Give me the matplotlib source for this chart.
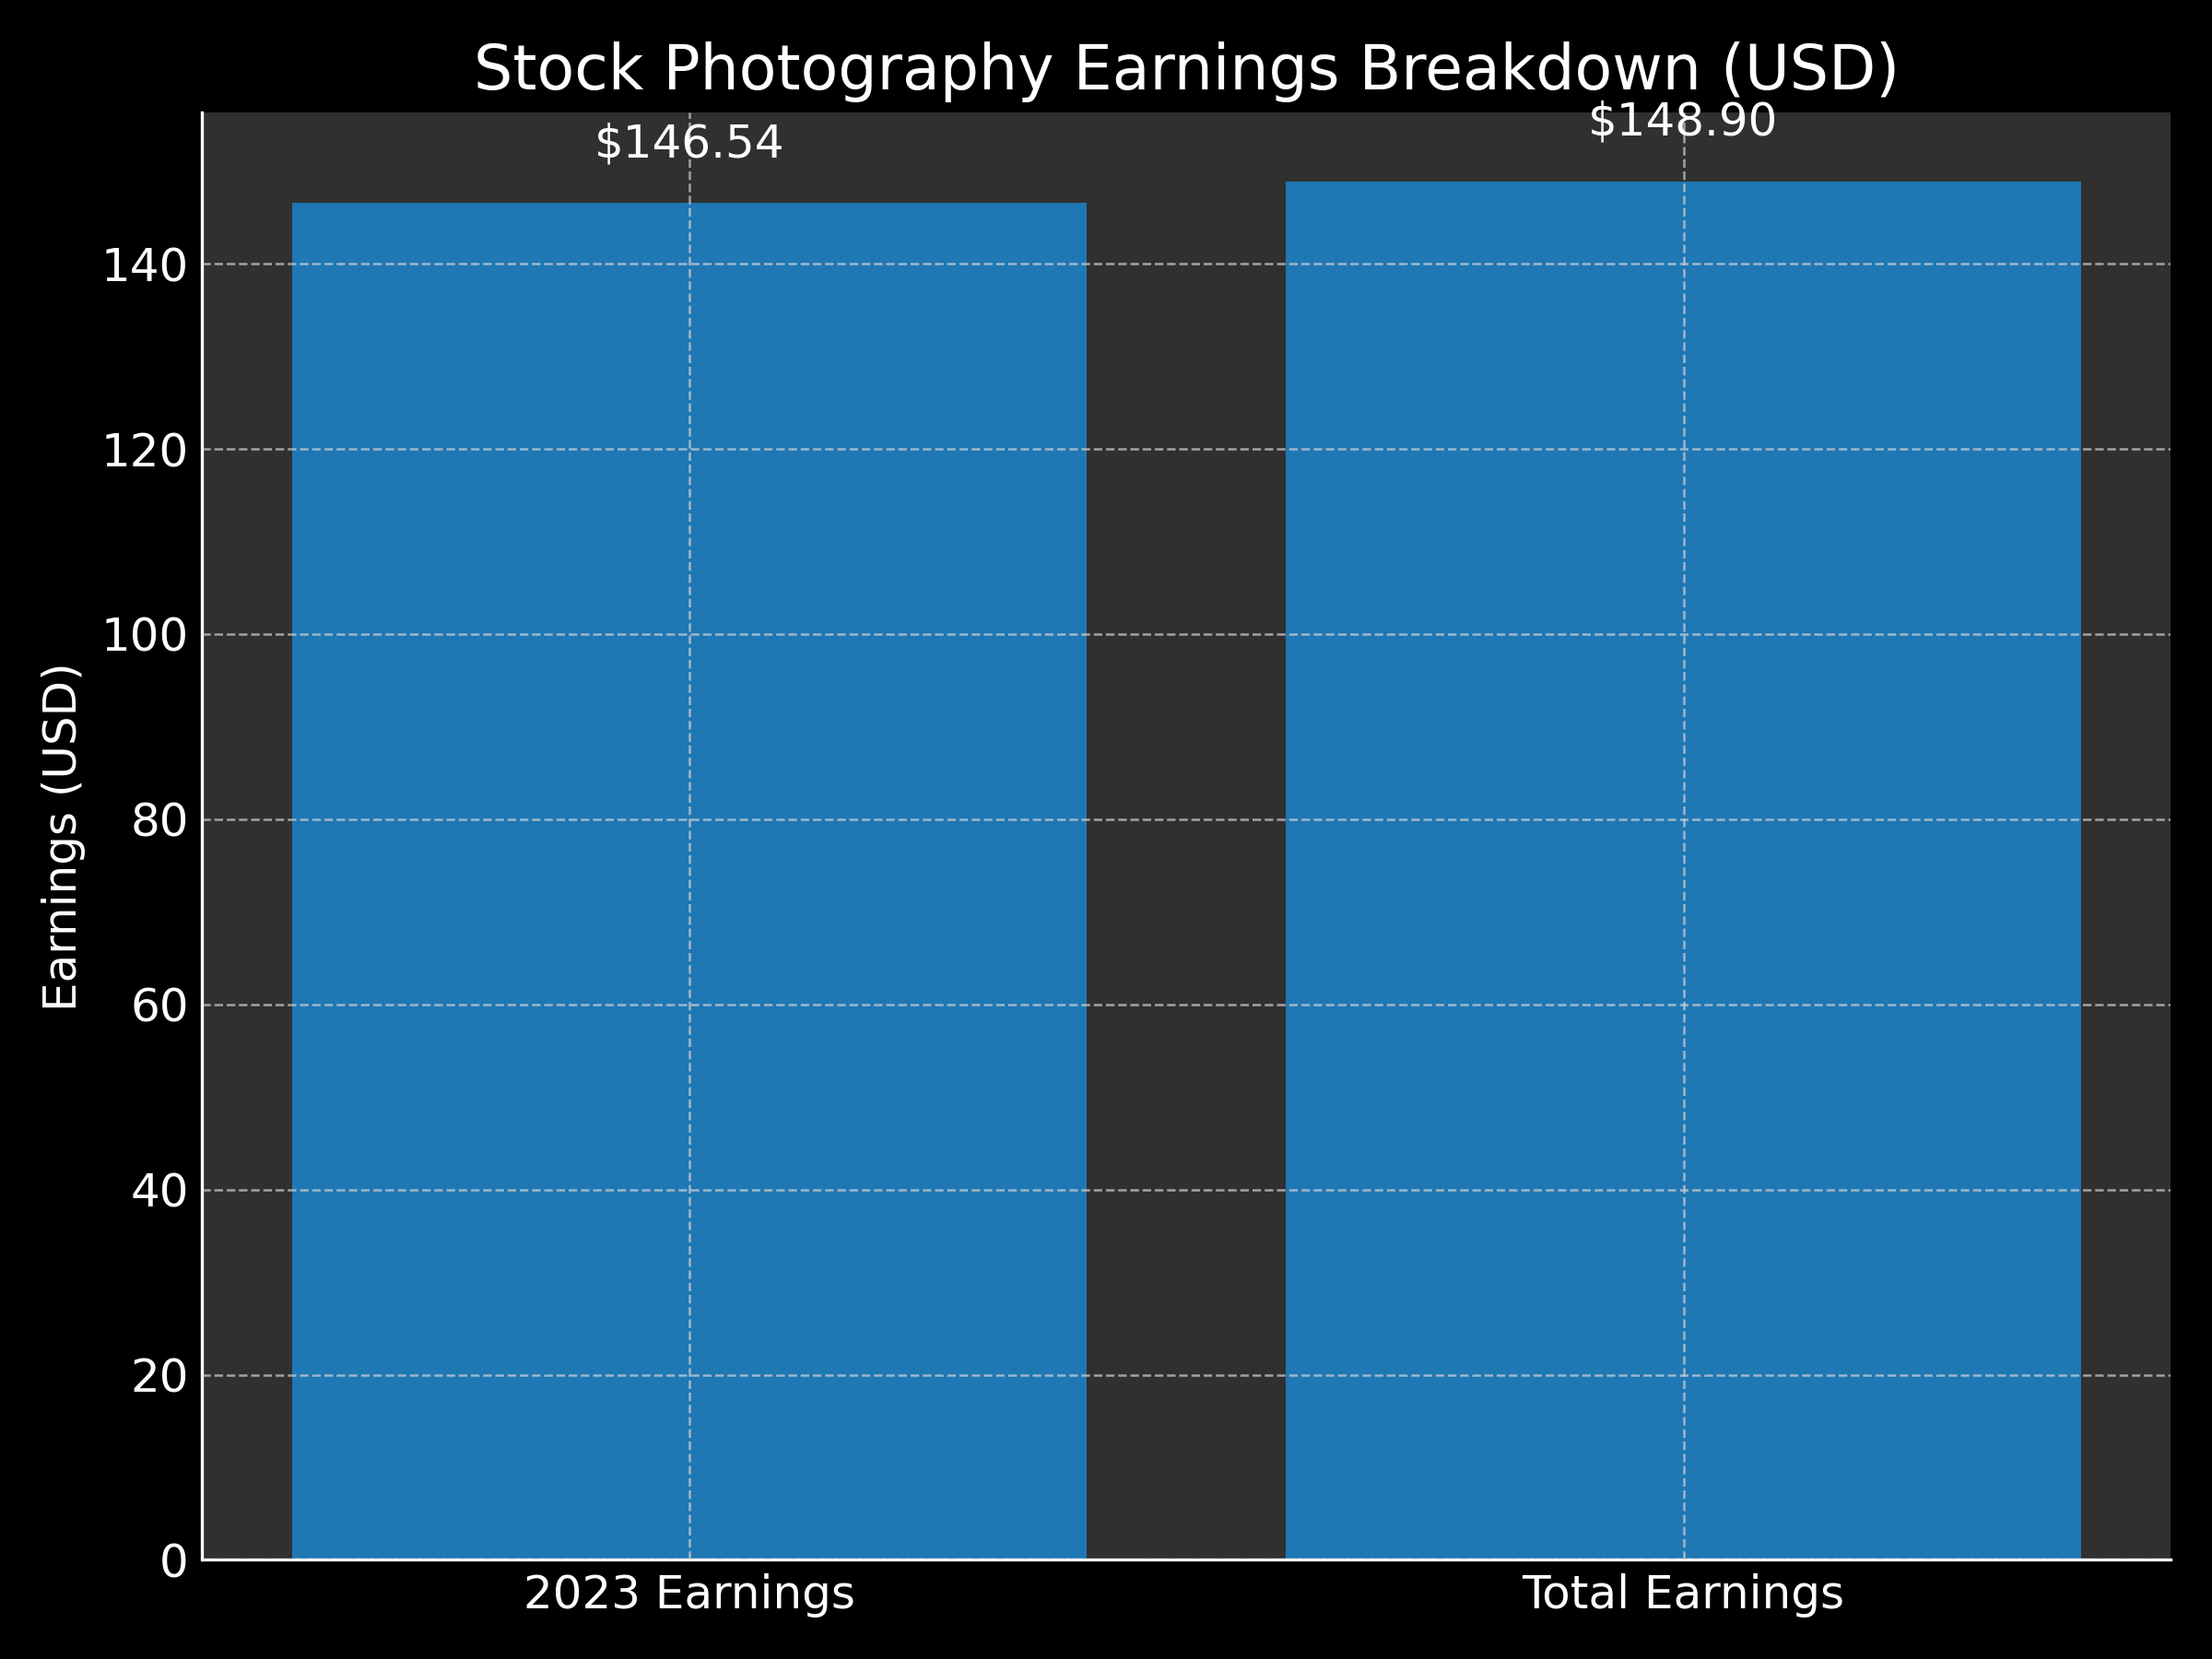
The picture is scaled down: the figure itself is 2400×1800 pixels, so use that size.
import matplotlib.pyplot as plt

# data
categories = ['2023 Earnings', 'Total Earnings']
earnings = [146.54, 148.90]

plt.style.use('dark_background')
fig, ax = plt.subplots(figsize=(8, 6), dpi=300)
ax.set_facecolor('#303030')

bars = ax.bar(categories, earnings, color='#1f77b4')

for b, v in zip(bars, earnings):
    ax.text(b.get_x() + b.get_width() / 2, v + 4, f'${v:.2f}',
            ha='center', va='bottom', fontsize=12, color='white')

ax.set_title('Stock Photography Earnings Breakdown (USD)', fontsize=16)
ax.set_ylabel('Earnings (USD)', fontsize=12)
ax.tick_params(labelsize=12, length=0)

ax.spines['top'].set_visible(False)
ax.spines['right'].set_visible(False)
ax.grid(True, linestyle='--', color='lightgray', alpha=0.7, linewidth=0.6)
ax.set_axisbelow(False)

plt.tight_layout()
plt.savefig('out.png')
